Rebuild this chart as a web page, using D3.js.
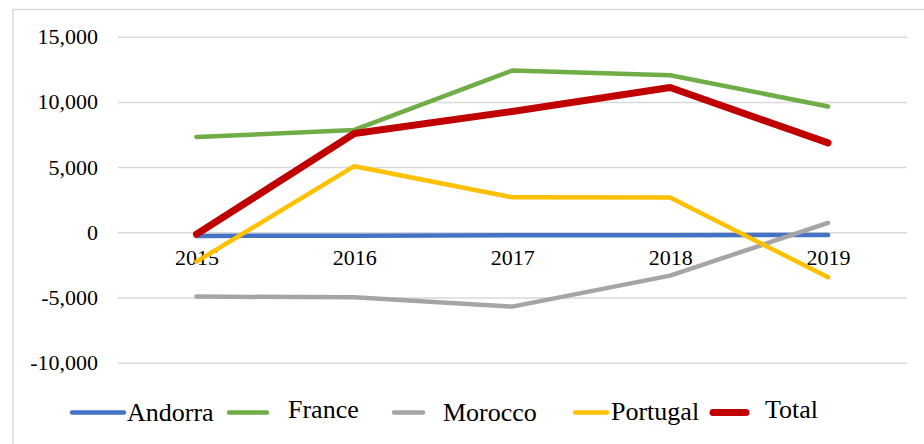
<!DOCTYPE html>
<html>
<head>
<meta charset="utf-8">
<script src="https://cdn.jsdelivr.net/npm/d3@7/dist/d3.min.js"></script>
<style>
  body { margin: 0; background: #fff; }
  svg { display: block; }
  svg text { font-family: "Liberation Serif", "Times New Roman", serif; }
</style>
</head>
<body>
<div id="canvas"></div>
<script>
// data
var years = ['2015', '2016', '2017', '2018', '2019'];
var andorra  = [-280, -260, -230, -220, -200];
var france   = [7300, 7850, 12400, 12050, 9650];
var morocco  = [-4930, -4990, -5700, -3320, 720];
var portugal = [-2250, 5070, 2680, 2660, -3450];
var total    = [-150, 7580, 9270, 11100, 6860];
var seriesNames = ['Andorra', 'France', 'Morocco', 'Portugal', 'Total'];
var yTicks = [-10000, -5000, 0, 5000, 10000, 15000];

var colors = ['#4472C4', '#70AD47', '#A5A5A5', '#FFC000', '#C00000'];
var widths = [4.5, 4.5, 4.5, 4.5, 7];

var W = 924, H = 444;

var svg = d3.select('#canvas')
    .append('svg')
    .attr('width', W)
    .attr('height', H);

// chart frame
svg.append('rect')
    .attr('x', 13).attr('y', 9.5)
    .attr('width', W).attr('height', H)
    .attr('fill', 'none')
    .attr('stroke', '#d9d9d9')
    .attr('stroke-width', 1.5);

var scaleX = d3.scalePoint()
    .domain(years)
    .range([117.5, 907])
    .padding(0.5);

var scaleY = d3.scaleLinear()
    .domain([-10000, 15000])
    .range([362.7, 36.7]);

var fmt = d3.format(',');

// gridlines + y labels
var axisY = d3.axisLeft(scaleY)
    .tickValues(yTicks)
    .tickSize(-(907 - 118))
    .tickPadding(20)
    .tickFormat(function(d) { return fmt(d).replace('\u2212', '-'); });

var gy = svg.append('g')
    .attr('transform', 'translate(118,0)')
    .call(axisY)
    .attr('font-family', null)
    .attr('font-size', null);
gy.select('.domain').remove();
gy.selectAll('.tick line')
    .attr('stroke', '#d9d9d9')
    .attr('stroke-width', 1.5);
gy.selectAll('.tick text')
    .style('font-size', '22px')
    .attr('fill', '#000')
    .attr('x', -20);

// category labels sit just under the zero line
var axisX = d3.axisBottom(scaleX).tickSize(0).tickPadding(0);
var gx = svg.append('g')
    .attr('transform', 'translate(0,' + scaleY(0) + ')')
    .call(axisX)
    .attr('font-family', null)
    .attr('font-size', null);
gx.select('.domain').remove();
gx.selectAll('.tick text')
    .style('font-size', '22px')
    .attr('fill', '#000')
    .attr('dy', null)
    .attr('y', 33);

var allSeries = [andorra, france, morocco, portugal, total];

var line = d3.line()
    .x(function(d, i) { return scaleX(years[i]); })
    .y(function(d) { return scaleY(d); });

svg.selectAll('.series')
    .data(allSeries)
    .enter()
    .append('path')
    .attr('class', 'series')
    .attr('d', line)
    .attr('fill', 'none')
    .attr('stroke', function(d, i) { return colors[i]; })
    .attr('stroke-width', function(d, i) { return widths[i]; })
    .attr('stroke-linecap', 'round')
    .attr('stroke-linejoin', 'round');

// legend (symbol start, symbol end, text x, text baseline)
var legendLayout = [
  [72, 124, 127, 421],
  [229, 267, 288, 418],
  [394, 423, 443, 421],
  [575, 607, 611, 420],
  [713, 746, 765, 418]
];

var legend = svg.selectAll('.legend')
    .data(seriesNames)
    .enter()
    .append('g')
    .attr('class', 'legend');

legend.append('line')
    .attr('x1', function(d, i) { return legendLayout[i][0]; })
    .attr('x2', function(d, i) { return legendLayout[i][1]; })
    .attr('y1', 412.5)
    .attr('y2', 412.5)
    .attr('stroke', function(d, i) { return colors[i]; })
    .attr('stroke-width', function(d, i) { return widths[i]; })
    .attr('stroke-linecap', 'round');

legend.append('text')
    .attr('x', function(d, i) { return legendLayout[i][2]; })
    .attr('y', function(d, i) { return legendLayout[i][3]; })
    .style('font-size', '26px')
    .attr('fill', '#000')
    .text(function(d) { return d; });
</script>
</body>
</html>
